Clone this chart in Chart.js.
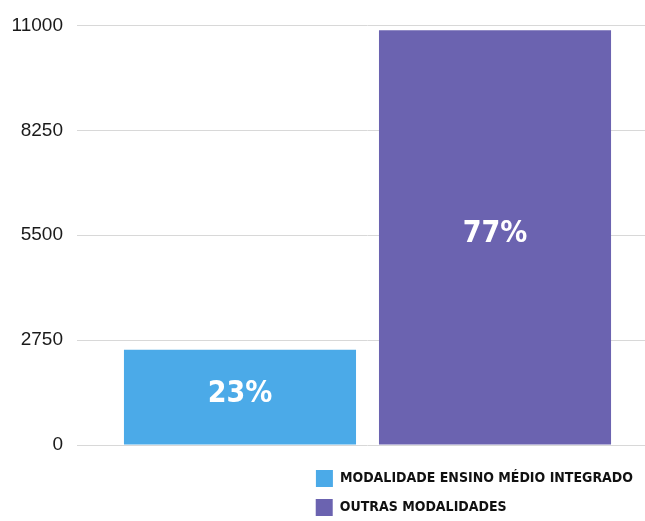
<!DOCTYPE html>
<html><head><meta charset="utf-8">
<script src="https://cdn.jsdelivr.net/npm/chart.js@4"></script>
<style>html,body{margin:0;padding:0;background:#fff}</style>
</head><body>
<canvas id="c" width="645" height="521"></canvas>
<script>
const categories = [''];
const seriesNames = ['MODALIDADE ENSINO MÉDIO INTEGRADO', 'OUTRAS MODALIDADES'];
const integradoValues = [2500];
const outrasValues = [10870];
const barLabels = ['23%', '77%'];
const yTicks = [0, 2750, 5500, 8250, 11000];
const colors = ['#4BAAE8', '#6B63B0'];

const condensed = "'DejaVu Sans Condensed','Liberation Sans Narrow',sans-serif";
const legendFont = {family: condensed, size: 14, weight: 'bold'};

const pctPlugin = {
  id: 'pct',
  afterDatasetsDraw(chart) {
    const ctx = chart.ctx;
    chart.data.datasets.forEach((ds, i) => {
      chart.getDatasetMeta(i).data.forEach(bar => {
        const p = bar.getProps(['x', 'y', 'base'], true);
        ctx.save();
        ctx.fillStyle = '#ffffff';
        ctx.font = 'bold 30px ' + condensed;
        ctx.textAlign = 'center';
        ctx.textBaseline = 'middle';
        ctx.fillText(barLabels[i], p.x, (p.y + p.base) / 2 - 3);
        ctx.restore();
      });
    });
  }
};

new Chart(document.getElementById('c'), {
  type: 'bar',
  data: {
    labels: categories,
    datasets: [
      {label: seriesNames[0], data: integradoValues, backgroundColor: colors[0], borderWidth: 0},
      {label: seriesNames[1], data: outrasValues, backgroundColor: colors[1], borderWidth: 0}
    ]
  },
  options: {
    responsive: false,
    animation: false,
    devicePixelRatio: 1,
    categoryPercentage: 0.919,
    barPercentage: 0.91,
    layout: {padding: {top: 25, right: 0, bottom: -5, left: 0}},
    scales: {
      x: {
        display: true,
        grid: {display: false},
        border: {display: false},
        ticks: {display: false},
        afterFit(s) { s.height = 13; }
      },
      y: {
        min: 0, max: 11000,
        afterFit(s) { s.width = 90; },
        afterBuildTicks(s) { s.ticks = yTicks.map(v => ({value: v})); },
        border: {display: false},
        grid: {color: '#d8d8d8', lineWidth: 1, tickLength: 13, drawTicks: true},
        ticks: {
          padding: 14,
          color: '#1a1a1a',
          font: {family: "'Liberation Sans',Arial,sans-serif", size: 19},
          callback: v => String(v)
        }
      }
    },
    plugins: {
      tooltip: {enabled: false},
      legend: {
        position: 'bottom',
        align: 'end',
        fullSize: false,
        labels: {
          boxWidth: 17,
          boxHeight: 17,
          padding: 12,
          color: '#111111',
          font: legendFont,
          generateLabels(chart) {
            const items = Chart.defaults.plugins.legend.labels.generateLabels(chart);
            const ctx = chart.ctx;
            ctx.save();
            ctx.font = 'bold ' + legendFont.size + 'px ' + legendFont.family;
            const maxW = Math.max(...items.map(it => ctx.measureText(it.text).width));
            items.forEach(it => {
              let guard = 0;
              while (ctx.measureText(it.text + '\u200A').width <= maxW + 0.5 && guard++ < 400) it.text += '\u200A';
            });
            ctx.restore();
            return items;
          }
        }
      }
    }
  },
  plugins: [pctPlugin]
});
</script>
</body></html>
